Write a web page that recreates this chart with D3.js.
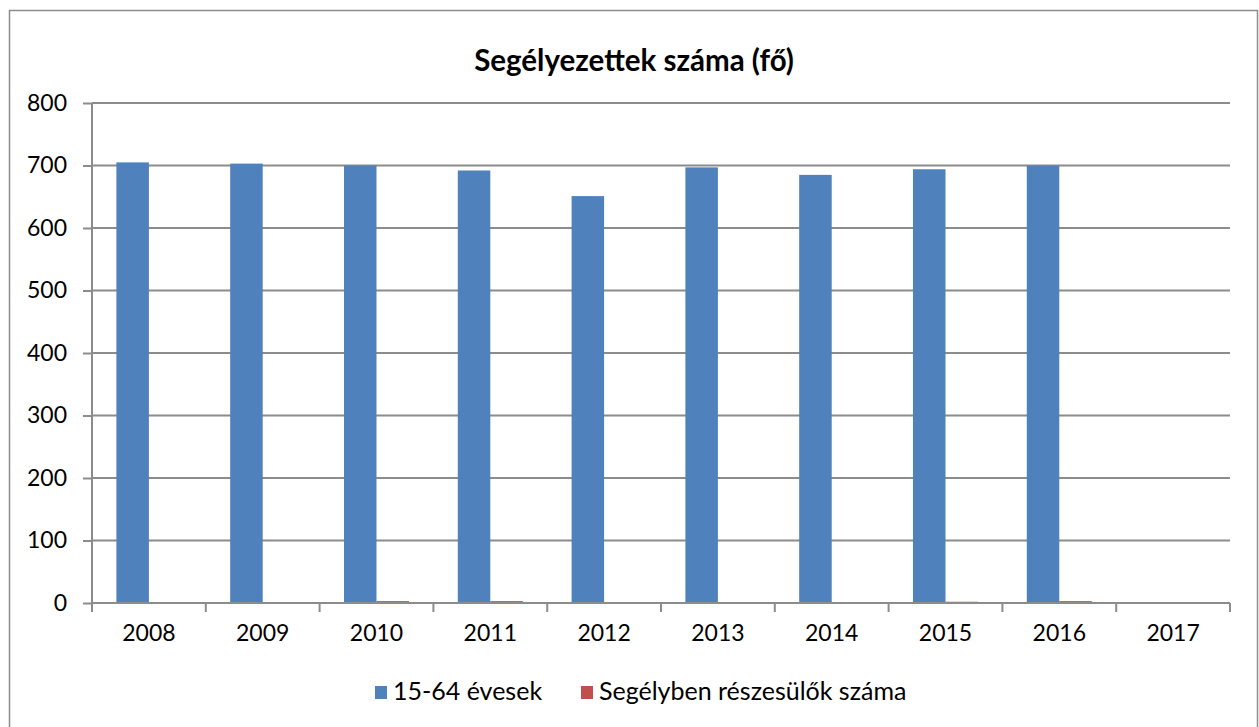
<!DOCTYPE html>
<html>
<head>
<meta charset="utf-8">
<script src="https://cdn.jsdelivr.net/npm/d3@7"></script>
<style>
  body { margin: 0; background: #fff; }
  text { font-family: Lato, "Open Sans", sans-serif; fill: #000; }
</style>
</head>
<body>
<svg></svg>
<script>
var width = 1259;
var height = 727;

var years = ["2008","2009","2010","2011","2012","2013","2014","2015","2016","2017"];
var evesek = [705, 703, 700, 692, 651, 697, 685, 694, 700, 0];
var segelyben = [0, 0, 3, 3, 0, 0, 0, 2, 3, 0];
var seriesNames = ["15-64 évesek", "Segélyben részesülők száma"];
var colors = ["#4F81BD", "#C0504D"];
var yTicks = [0, 100, 200, 300, 400, 500, 600, 700, 800];

var svg = d3.select("svg")
    .attr("width", width)
    .attr("height", height);

// chart border
svg.append("rect")
    .attr("x", 9.5).attr("y", 10.5)
    .attr("width", 1248).attr("height", 730)
    .attr("fill", "none")
    .attr("stroke", "#8c8c8c")
    .attr("stroke-width", 1.5);

var plotLeft = 92, plotRight = 1230, plotTop = 103, plotBottom = 603;

var x = d3.scaleBand().domain(years).range([plotLeft, plotRight]);
var y = d3.scaleLinear().domain([0, 800]).range([plotBottom, plotTop]);
// excel style grouping, gap width 150%
var inner = d3.scaleBand().domain([0, 1])
    .range([0, x.bandwidth()])
    .paddingInner(0).paddingOuter(0.75);

svg.append("text")
    .attr("x", 634).attr("y", 71)
    .attr("text-anchor", "middle")
    .style("font-size", "29.5px")
    .style("font-weight", "bold")
    .text("Segélyezettek száma (fő)");

// gridlines
svg.append("g").selectAll("line")
    .data(yTicks.filter(function(d){ return d > 0; }))
    .enter().append("line")
    .attr("x1", plotLeft).attr("x2", plotRight)
    .attr("y1", function(d){ return y(d); })
    .attr("y2", function(d){ return y(d); })
    .attr("stroke", "#8c8c8c")
    .attr("stroke-width", 2);

// bars
var data = [evesek, segelyben];
data.forEach(function(vals, s){
  svg.append("g").selectAll("rect")
      .data(vals)
      .enter().append("rect")
      .attr("x", function(d, i){ return x(years[i]) + inner(s); })
      .attr("y", function(d){ return y(d); })
      .attr("width", inner.bandwidth())
      .attr("height", function(d){ return plotBottom - y(d); })
      .attr("fill", colors[s]);
});

// y axis
var yAxis = svg.append("g")
    .attr("transform", "translate(" + plotLeft + ",0)")
    .call(d3.axisLeft(y).tickValues(yTicks).tickSize(9).tickPadding(16));
yAxis.select(".domain").attr("stroke", "#8c8c8c").attr("stroke-width", 2)
    .attr("d", "M0," + plotTop + "V" + plotBottom);
yAxis.selectAll(".tick line").attr("stroke", "#8c8c8c").attr("stroke-width", 2);
yAxis.selectAll(".tick text").style("font-size", "23px").style("font-family", "Lato, sans-serif");

// x axis
var xAxis = svg.append("g")
    .attr("transform", "translate(0," + plotBottom + ")")
    .call(d3.axisBottom(x).tickSize(0).tickPadding(22));
xAxis.select(".domain").attr("stroke", "#8c8c8c").attr("stroke-width", 2)
    .attr("d", "M" + plotLeft + ",0H" + plotRight);
xAxis.selectAll(".tick text").style("font-size", "23px").style("font-family", "Lato, sans-serif");
var bounds = years.map(function(d){ return x(d); }).concat([plotRight]);
xAxis.selectAll(".bound")
    .data(bounds)
    .enter().append("line")
    .attr("x1", function(d){ return d; }).attr("x2", function(d){ return d; })
    .attr("y1", 0).attr("y2", 9)
    .attr("stroke", "#8c8c8c").attr("stroke-width", 2);

// legend
var legendX = [375, 581];
var legend = svg.append("g").selectAll("g")
    .data(seriesNames)
    .enter().append("g")
    .attr("transform", function(d, i){ return "translate(" + legendX[i] + ",686)"; });
legend.append("rect")
    .attr("width", 12).attr("height", 13).attr("y", 0)
    .attr("fill", function(d, i){ return colors[i]; });
legend.append("text")
    .attr("x", 18).attr("y", 14)
    .style("font-size", "25px")
    .text(function(d){ return d; });
</script>
</body>
</html>
